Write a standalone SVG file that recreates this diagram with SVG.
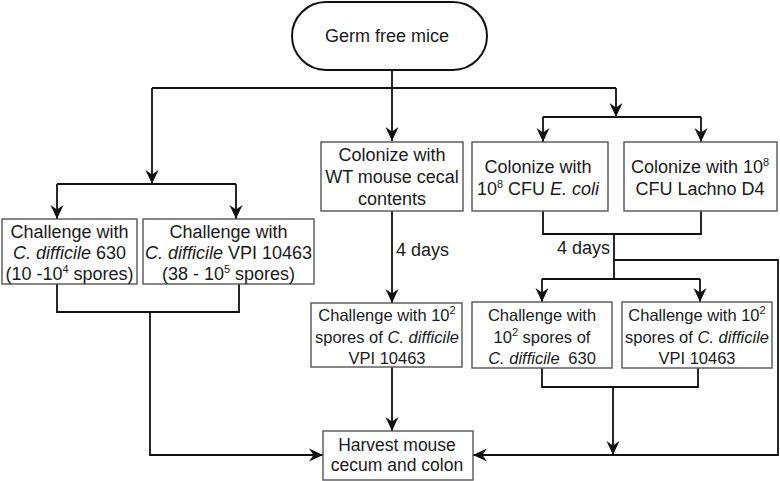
<svg xmlns="http://www.w3.org/2000/svg" width="780" height="481" viewBox="0 0 780 481">
<style>
.bx{fill:#fff;stroke:#555;stroke-width:1.4}
.pill{fill:#fff;stroke:#111;stroke-width:2}
.t{font-family:"Liberation Sans",Arial,sans-serif;font-size:18px;fill:#1a1a1a;text-anchor:middle}
.s{font-size:16.5px}
.i{font-style:italic}
.sup{font-size:11px}
.c{fill:none;stroke:#111;stroke-width:1.8}
</style>
<defs>
<marker id="ah" markerUnits="userSpaceOnUse" markerWidth="15" markerHeight="14" refX="14" refY="7" orient="auto">
<path d="M0,0.5 L14,7 L0,13.5 L4.5,7 z" fill="#111"/>
</marker>
</defs>
<g id="connectors">
<path class="c" d="M392,70 V141" marker-end="url(#ah)"/>
<path class="c" d="M152,88 H616"/>
<path class="c" d="M152,88 V184" marker-end="url(#ah)"/>
<path class="c" d="M616,88 V117" marker-end="url(#ah)"/>
<path class="c" d="M57,184 H236"/>
<path class="c" d="M57,184 V219" marker-end="url(#ah)"/>
<path class="c" d="M236,184 V219" marker-end="url(#ah)"/>
<path class="c" d="M543,117 H701"/>
<path class="c" d="M543,117 V142" marker-end="url(#ah)"/>
<path class="c" d="M701,117 V142" marker-end="url(#ah)"/>
<path class="c" d="M57,284 V312 H239 V284"/>
<path class="c" d="M150,312 V455 H323" marker-end="url(#ah)"/>
<path class="c" d="M392,211 V303" marker-end="url(#ah)"/>
<path class="c" d="M392,367 V431" marker-end="url(#ah)"/>
<path class="c" d="M543,211 V234 H701 V211"/>
<path class="c" d="M614,234 V279"/>
<path class="c" d="M542,279 H700"/>
<path class="c" d="M542,279 V302" marker-end="url(#ah)"/>
<path class="c" d="M700,279 V302" marker-end="url(#ah)"/>
<path class="c" d="M614,260 H778 V455 H473" marker-end="url(#ah)"/>
<path class="c" d="M542,368 V387 H698 V368"/>
<path class="c" d="M613,387 V455" marker-end="url(#ah)"/>
<text class="t" x="396" y="256" text-anchor="start" style="text-anchor:start">4 days</text>
<text class="t" x="610" y="254" style="text-anchor:end">4 days</text>
</g>
<g id="germ-free">
<rect class="pill" x="292" y="2" width="195" height="68" rx="34"/>
<text class="t" x="387" y="42">Germ free mice</text>
</g>
<g id="challenge-630">
<rect class="bx" x="2" y="219" width="135" height="65"/>
<text class="t" x="69.5" y="238">Challenge with</text>
<text class="t" x="69.5" y="259"><tspan class="i">C. difficile</tspan> 630</text>
<text class="t" x="69.5" y="280">(10 -10<tspan class="sup" dy="-7">4</tspan><tspan dy="7"> spores)</tspan></text>
</g>
<g id="challenge-vpi">
<rect class="bx" x="143" y="219" width="171" height="65"/>
<text class="t" x="228.5" y="238">Challenge with</text>
<text class="t" x="228.5" y="259"><tspan class="i">C. difficile</tspan> VPI 10463</text>
<text class="t" x="228.5" y="280">(38 - 10<tspan class="sup" dy="-7">5</tspan><tspan dy="7"> spores)</tspan></text>
</g>
<g id="colonize-wt">
<rect class="bx" x="321" y="142" width="142" height="69"/>
<text class="t" x="392" y="161">Colonize with</text>
<text class="t" x="392" y="183">WT mouse cecal</text>
<text class="t" x="392" y="205">contents</text>
</g>
<g id="colonize-ecoli">
<rect class="bx" x="472" y="142" width="136" height="69"/>
<text class="t" x="538" y="173">Colonize with</text>
<text class="t" x="538" y="195">10<tspan class="sup" dy="-7">8</tspan><tspan dy="7"> CFU </tspan><tspan class="i">E. coli</tspan></text>
</g>
<g id="colonize-lachno">
<rect class="bx" x="624" y="142" width="153" height="69"/>
<text class="t" x="700" y="173">Colonize with 10<tspan class="sup" dy="-7">8</tspan></text>
<text class="t" x="700" y="195">CFU Lachno D4</text>
</g>
<g id="challenge-wt-vpi">
<rect class="bx" x="311" y="303" width="151" height="64"/>
<text class="t s" x="387" y="321">Challenge with 10<tspan class="sup" dy="-7">2</tspan></text>
<text class="t s" x="387" y="343">spores of <tspan class="i">C. difficile</tspan></text>
<text class="t s" x="387" y="364">VPI 10463</text>
</g>
<g id="challenge-col-630">
<rect class="bx" x="472" y="302" width="140" height="66"/>
<text class="t s" x="542" y="321">Challenge with</text>
<text class="t s" x="542" y="343">10<tspan class="sup" dy="-7">2</tspan><tspan dy="7"> spores of</tspan></text>
<text class="t s" x="542" y="364"><tspan class="i">C. difficile</tspan><tspan dx="4"> 630</tspan></text>
</g>
<g id="challenge-col-vpi">
<rect class="bx" x="622" y="302" width="150" height="66"/>
<text class="t s" x="697" y="321">Challenge with 10<tspan class="sup" dy="-7">2</tspan></text>
<text class="t s" x="697" y="343">spores of <tspan class="i">C. difficile</tspan></text>
<text class="t s" x="697" y="364">VPI 10463</text>
</g>
<g id="harvest">
<rect class="bx" x="323" y="431" width="150" height="49"/>
<text class="t" x="397" y="451" style="font-size:17.5px">Harvest mouse</text>
<text class="t" x="397" y="471" style="font-size:17.5px">cecum and colon</text>
</g>
</svg>
